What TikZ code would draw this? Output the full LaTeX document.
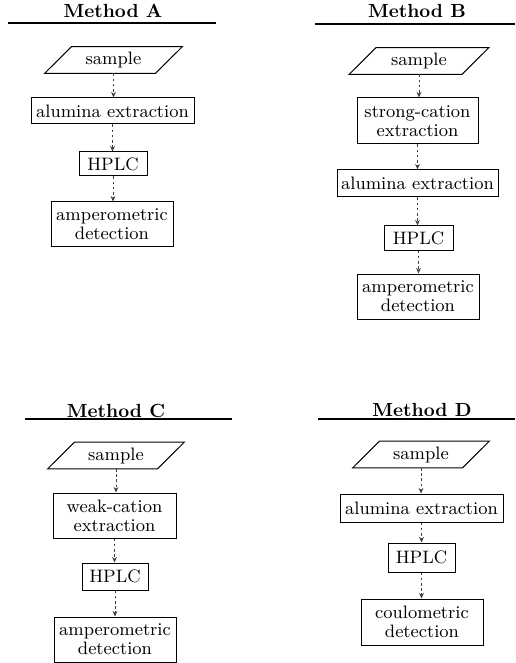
\documentclass[tikz,border=0pt]{standalone}
\usetikzlibrary{arrows.meta,calc}
\begin{document}
\begin{tikzpicture}[x=0.5pt,y=-0.5pt]
\tikzset{
  box/.style={draw, line width=0.5pt, inner sep=1pt, align=center, font=\fontsize{9}{9.6}\selectfont},
  para/.style={inner sep=0pt, font=\fontsize{9}{9.6}\selectfont},
  flow/.style={draw=black!75, line width=0.35pt, dash pattern=on 1.3pt off 1.3pt, -{Stealth[length=2.8pt,width=2.4pt]}},
  ttl/.style={font=\fontsize{9.5}{11}\selectfont\bfseries},
  rulebar/.style={line width=1.2pt}
}
\newcommand\sampleshape[4]{%
  \node[para, minimum width=#4*0.5pt, minimum height=13pt] (#1) at (#2,#3) {sample};
  \draw[line width=0.5pt] ($(#1.south west)+(-13.5,0)$) -- ($(#1.north west)+(13.5,0)$)
     -- ($(#1.north east)+(13.5,0)$) -- ($(#1.south east)+(-13.5,0)$) -- cycle;}
\useasboundingbox (0,0) rectangle (515,663);

% ---------- Method A ----------
\node[ttl] (tA) at (113,11) {Method A};
\coordinate (uA1) at (8,23); \coordinate (uA2) at (216,23);
\draw[rulebar] (uA1) -- (uA2);
\sampleshape{sA}{113.5}{60}{110}
\node[box, minimum width=81.5pt, minimum height=13pt] (eA) at (112.5,111) {alumina extraction};
\node[box, minimum width=34pt, minimum height=12pt] (hA) at (113,164) {HPLC};
\node[box, minimum width=61pt, minimum height=22pt] (dA) at (112,224) {amperometric\\detection};
\draw[flow] (sA.south) -- (sA.south |- eA.north);
\draw[flow] (eA.south) -- (eA.south |- hA.north);
\draw[flow] (hA.south) -- (hA.south |- dA.north);

% ---------- Method B ----------
\node[ttl] (tB) at (417,11) {Method B};
\coordinate (uB1) at (315,24); \coordinate (uB2) at (515,24);
\draw[rulebar] (uB1) -- (uB2);
\sampleshape{sB}{419}{61}{112}
\node[box, minimum width=60.5pt, minimum height=23pt] (cB) at (417.5,121) {strong-cation\\extraction};
\node[box, minimum width=80.5pt, minimum height=13.5pt] (eB) at (417.5,183.5) {alumina extraction};
\node[box, minimum width=34.5pt, minimum height=12pt] (hB) at (418.5,238) {HPLC};
\node[box, minimum width=61pt, minimum height=22.5pt] (dB) at (418,296.5) {amperometric\\detection};
\draw[flow] (sB.south) -- (sB.south |- cB.north);
\draw[flow] (cB.south) -- (cB.south |- eB.north);
\draw[flow] (eB.south) -- (eB.south |- hB.north);
\draw[flow] (hB.south) -- (hB.south |- dB.north);

% ---------- Method C ----------
\node[ttl] (tC) at (116,411) {Method C};
\coordinate (uC1) at (25,419); \coordinate (uC2) at (232,419);
\draw[rulebar] (uC1) -- (uC2);
\sampleshape{sC}{116}{455.5}{109}
\node[box, minimum width=61.5pt, minimum height=22.5pt] (wC) at (114.5,515.5) {weak-cation\\extraction};
\node[box, minimum width=33pt, minimum height=13.5pt] (hC) at (115,576.5) {HPLC};
\node[box, minimum width=61pt, minimum height=22.5pt] (dC) at (115,639.5) {amperometric\\detection};
\draw[flow] (sC.south) -- (sC.south |- wC.north);
\draw[flow] (wC.south) -- (wC.south |- hC.north);
\draw[flow] (hC.south) -- (hC.south |- dC.north);

% ---------- Method D ----------
\node[ttl] (tD) at (422,410) {Method D};
\coordinate (uD1) at (318,419); \coordinate (uD2) at (515,419);
\draw[rulebar] (uD1) -- (uD2);
\sampleshape{sD}{421}{454.5}{109}
\node[box, minimum width=81.5pt, minimum height=14pt] (eD) at (421.5,508) {alumina extraction};
\node[box, minimum width=33.5pt, minimum height=14.5pt] (hD) at (421.5,557.5) {HPLC};
\node[box, minimum width=61pt, minimum height=23pt] (cD) at (422,622) {coulometric\\detection};
\draw[flow] (sD.south) -- (sD.south |- eD.north);
\draw[flow] (eD.south) -- (eD.south |- hD.north);
\draw[flow] (hD.south) -- (hD.south |- cD.north);
\end{tikzpicture}
\end{document}
